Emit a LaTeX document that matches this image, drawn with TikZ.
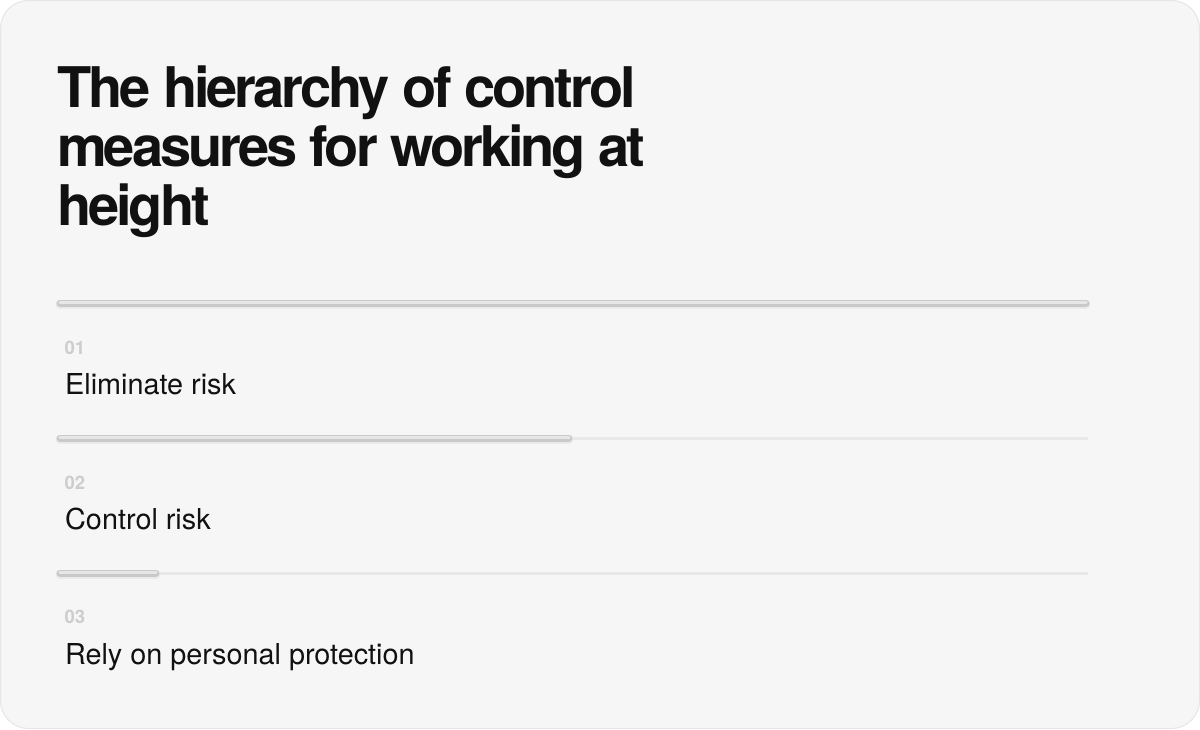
\documentclass[tikz,border=0pt]{standalone}
\usepackage{fontspec}
\setmainfont{TeX Gyre Heros}
\newfontfamily\titlefont[LetterSpace=-5.5]{TeX Gyre Heros}
\definecolor{cardbg}{HTML}{F6F6F6}
\definecolor{cardedge}{HTML}{E6E6E6}
\definecolor{ink}{HTML}{111111}
\definecolor{numgray}{HTML}{CDCDCD}
\definecolor{trackgray}{HTML}{E8E8E8}
\definecolor{barouter}{HTML}{C9C9C9}
\definecolor{barinner}{HTML}{E6E6E6}
\definecolor{barshadow}{HTML}{EAEAEA}
\tikzset{
  titletext/.style={anchor=base west, inner sep=0pt, text=ink, font=\titlefont\bfseries\fontsize{56}{59}\selectfont},
  numtext/.style={anchor=base west, inner sep=0pt, text=numgray, font=\bfseries\fontsize{18.5}{20}\selectfont},
  itemtext/.style={anchor=base west, inner sep=0pt, text=ink, font=\fontsize{28.8}{32}\selectfont},
  track/.style={line width=3pt, trackgray, line cap=round},
  barshade/.style={line width=9pt, barshadow, line cap=round},
  barout/.style={line width=7pt, barouter, line cap=round},
  barin/.style={line width=3.6pt, barinner, line cap=round},
}
\begin{document}
\begin{tikzpicture}[x=1pt,y=-1pt]
\useasboundingbox (0,0) rectangle (1200,729);
\fill[white] (0,0) rectangle (1200,729);
\draw[fill=cardbg, draw=cardedge, line width=1pt, rounded corners=28pt] (0.5,0.5) rectangle (1199.5,728.5);

\node[titletext] (t1) at (57,107) {The hierarchy of control};
\node[titletext] (t2) at (57,166) {measures for working at};
\node[titletext] (t3) at (57,225) {height};

% bars
\foreach \i/\y/\xe in {1/303/1086, 2/438/569, 3/573/156} {
  \coordinate (s\i) at (60,\y);
  \coordinate (e\i) at (1087,\y);
  \coordinate (f\i) at (\xe,\y);
}
\foreach \i in {1,2,3} {
  \draw[track] (s\i) -- (e\i);
  \draw[barshade] ([yshift=-1.2pt]s\i) -- ([yshift=-1.2pt]f\i);
  \draw[barout] (s\i) -- (f\i);
  \draw[barin] ([yshift=0.6pt]s\i) -- ([yshift=0.6pt]f\i);
}

\node[numtext] (n1) at (64.5,354) {01};
\node[itemtext] (i1) at (65,394) {Eliminate risk};
\node[numtext] (n2) at (64.5,489) {02};
\node[itemtext] (i2) at (65,529) {Control risk};
\node[numtext] (n3) at (64.5,623) {03};
\node[itemtext] (i3) at (65,664) {Rely on personal protection};
\end{tikzpicture}
\end{document}
